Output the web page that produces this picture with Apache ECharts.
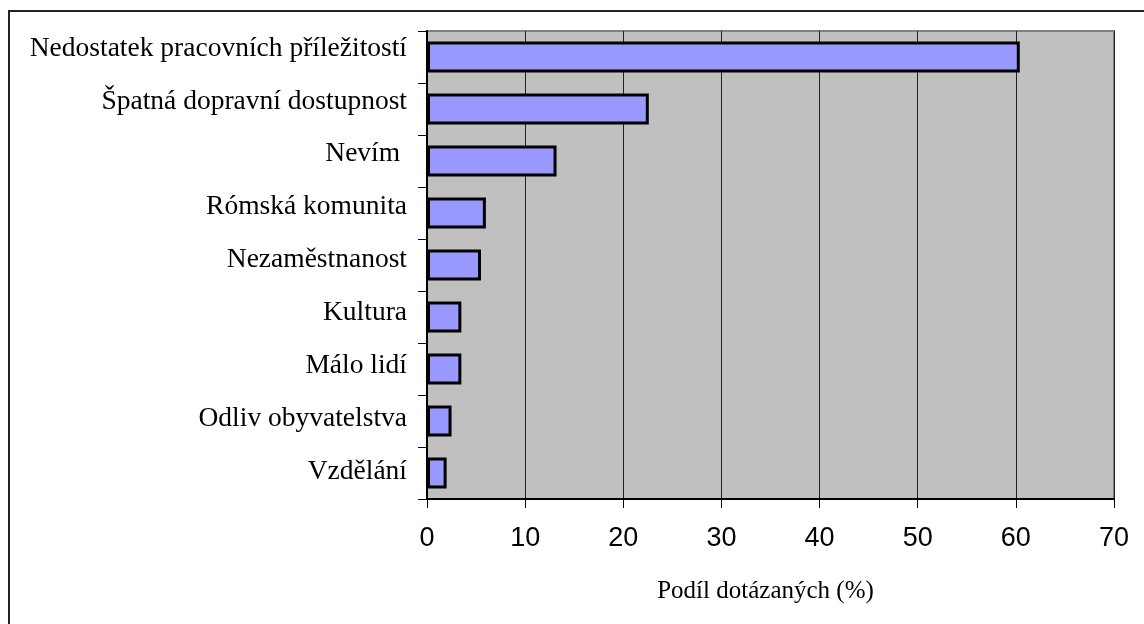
<!DOCTYPE html>
<html>
<head>
<meta charset="utf-8">
<script src="https://cdn.jsdelivr.net/npm/echarts@6/dist/echarts.min.js"></script>
<style>
  body { margin: 0; background: #fff; }
  #main { width: 1144px; height: 624px; }
  #frame { position: absolute; left: 8px; top: 10px; width: 1200px; height: 700px;
           border: 2px solid #222; pointer-events: none; }
</style>
</head>
<body>
<div id="main"></div>
<div id="frame"></div>
<script>
// kategorie (shora dolu)
let categories = [
    'Nedostatek pracovních příležitostí',
    'Špatná dopravní dostupnost',
    'Nevím ',
    'Rómská komunita',
    'Nezaměstnanost',
    'Kultura',
    'Málo lidí',
    'Odliv obyvatelstva',
    'Vzdělání'
];
// podil dotazanych v %
let values = [60.4, 22.6, 13.2, 6.0, 5.5, 3.5, 3.5, 2.5, 2.0];
let xTicks = [0, 10, 20, 30, 40, 50, 60, 70];
let xName = 'Podíl dotázaných (%)';

let myChart = echarts.init(document.getElementById('main'));

option = {
    animation: false,
    grid: [
        {
            left: 427, right: 30, top: 31, bottom: 125,
            show: true,
            backgroundColor: '#c0c0c0',
            borderColor: '#808080',
            borderWidth: 2
        },
        //jen pro popisky kategorii (trochu jine rozlozeni nez sloupce)
        { left: 427, right: 30, top: 22, bottom: 126, show: false }
    ],
    xAxis: [
        {
            type: 'value',
            gridIndex: 0,
            min: xTicks[0],
            max: xTicks[xTicks.length - 1],
            interval: 10,
            name: xName,
            nameLocation: 'middle',
            nameGap: 80,
            nameTextStyle: { fontFamily: 'Liberation Serif', fontSize: 25, color: '#000', padding: [0, 0, 0, -10] },
            axisLine: { show: true, lineStyle: { color: '#000', width: 2 } },
            axisTick: { show: true, length: 9, lineStyle: { color: '#000', width: 1 } },
            axisLabel: { fontFamily: 'Liberation Sans', fontSize: 27, color: '#000', margin: 26 },
            splitLine: { show: true, lineStyle: { color: '#222', width: 1 } }
        },
        { type: 'value', gridIndex: 1, show: false, min: 0, max: 70 }
    ],
    yAxis: [
        {
            type: 'category',
            gridIndex: 0,
            inverse: true,
            data: categories,
            axisLine: { show: true, lineStyle: { color: '#000', width: 2 } },
            axisTick: { show: true, length: 9, lineStyle: { color: '#000', width: 1 } },
            axisLabel: { show: false },
            splitLine: { show: false }
        },
        {
            type: 'category',
            gridIndex: 1,
            inverse: true,
            data: categories,
            axisLine: { show: false },
            axisTick: { show: false },
            axisLabel: { fontFamily: 'Liberation Serif', fontSize: 27.5, color: '#000', margin: 20 },
            splitLine: { show: false }
        }
    ],
    series: [
        {
            type: 'bar',
            xAxisIndex: 0,
            yAxisIndex: 0,
            data: values,
            barWidth: '60%',
            itemStyle: { color: '#9999ff', borderColor: '#000', borderWidth: 3 }
        }
    ]
};
myChart.setOption(option);
</script>
</body>
</html>
